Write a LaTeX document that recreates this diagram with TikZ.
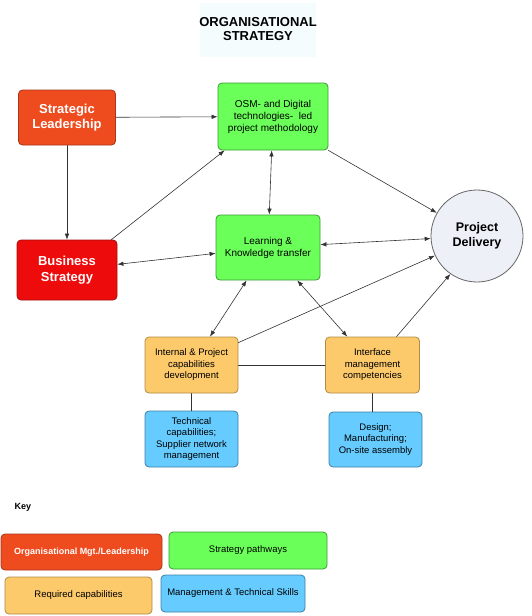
\documentclass[tikz,border=0pt]{standalone}
\usepackage{fontspec}
\setmainfont{Liberation Sans}
\usetikzlibrary{arrows.meta,positioning}
\definecolor{LeadRed}{HTML}{EE4B1F}
\definecolor{LeadEdge}{HTML}{A8361A}
\definecolor{StrategyRed}{HTML}{EE0B0B}
\definecolor{StrategyEdge}{HTML}{A01010}
\definecolor{PathGreen}{HTML}{6BFF5A}
\definecolor{PathEdge}{HTML}{3C9A35}
\definecolor{CapOrange}{HTML}{FCC96B}
\definecolor{CapEdge}{HTML}{B08C45}
\definecolor{SkillBlue}{HTML}{66CCFF}
\definecolor{SkillEdge}{HTML}{3D7FA6}
\definecolor{DeliveryGrey}{HTML}{EEF0F8}
\definecolor{TitleTint}{HTML}{F5FCFE}
\definecolor{LinkGrey}{HTML}{333333}

\begin{document}
\begin{tikzpicture}[x=1pt,y=-1pt,line cap=round,line join=round,
  box/.style={draw,rounded corners=4pt,line width=0.8pt,align=center,inner sep=2pt},
  leadbox/.style={box,fill=LeadRed,draw=LeadEdge,text=white,font=\bfseries\fontsize{13}{15.5}\selectfont},
  pathbox/.style={box,fill=PathGreen,draw=PathEdge,font=\fontsize{10}{12}\selectfont},
  capbox/.style={box,fill=CapOrange,draw=CapEdge,font=\fontsize{9.5}{11.5}\selectfont},
  skillbox/.style={box,fill=SkillBlue,draw=SkillEdge,font=\fontsize{9.5}{11.5}\selectfont},
  keybox/.style={box,font=\fontsize{9.5}{11.5}\selectfont,minimum height=37pt},
  link/.style={draw=LinkGrey,line width=0.6pt},
  tip/.style={link,-{Latex[length=6pt,width=4.5pt]}},
  twotip/.style={link,{Latex[length=6pt,width=4.5pt]}-{Latex[length=6pt,width=4.5pt]}}]
  \useasboundingbox (0,0) rectangle (532,616);

  \fill[TitleTint] (200,3) rectangle (316,57);
  \node[align=center,font=\bfseries\fontsize{13}{14.5}\selectfont] (title) at (258,29) {ORGANISATIONAL\\STRATEGY};

  \node[leadbox,minimum width=97pt,minimum height=55pt] (sl) at (67,117.5) {Strategic\\Leadership};
  \node[leadbox,fill=StrategyRed,draw=StrategyEdge,minimum width=100pt,minimum height=60pt] (bs) at (67,270) {Business\\Strategy};
  \node[pathbox,minimum width=110pt,minimum height=67pt] (osm) at (273,116.5) {OSM- and Digital\\technologies-\ \ led\\project methodology};
  \node[pathbox,minimum width=104pt,minimum height=65pt] (lk) at (268,247.5) {Learning \&\\Knowledge transfer};
  \node[circle,draw=black!60,line width=0.8pt,fill=DeliveryGrey,minimum size=92pt,align=center,
    font=\bfseries\fontsize{12.5}{15}\selectfont] (pd) at (477,236) {Project\\Delivery};
  \node[capbox,minimum width=93pt,minimum height=56pt] (ipc) at (191.5,365) {Internal \& Project\\capabilities\\development};
  \node[capbox,minimum width=94pt,minimum height=56pt] (imc) at (372.5,365) {Interface\\management\\competencies};
  \node[skillbox,minimum width=93pt,minimum height=56pt] (tech) at (191.5,439) {Technical\\capabilities;\\Supplier network\\management};
  \node[skillbox,minimum width=93pt,minimum height=55pt] (dma) at (375.5,439.5) {Design;\\Manufacturing;\\On-site assembly};

  \draw[tip] (sl) -- (osm);
  \draw[tip] (sl) -- (bs);
  \draw[tip] ([xshift=-6pt]bs.north east) -- ([xshift=7pt]osm.south west);
  \draw[twotip] (osm) -- (lk);
  \draw[tip] (osm.south east) -- (pd);
  \draw[twotip] (lk) -- (pd);
  \draw[twotip] (bs) -- (lk);
  \draw[twotip] (lk) -- (ipc);
  \draw[twotip] (lk) -- (imc);
  \draw[tip] ([yshift=-6pt]ipc.north east) -- (pd.205);
  \draw[tip] ([xshift=24pt]imc.north) -- (pd.235);
  \draw[link] (ipc) -- (imc);
  \draw[link] (ipc) -- (tech);
  \draw[link] (imc.south) -- (imc.south |- dma.north);

  \node[anchor=west,font=\bfseries\fontsize{9}{11}\selectfont] (key) at (11,507) {Key};
  \node[keybox,fill=LeadRed,draw=LeadEdge,text=white,font=\bfseries\fontsize{9}{11}\selectfont,minimum width=161pt,minimum height=36pt] (keylead) at (81.5,552) {Organisational Mgt./Leadership};
  \node[keybox,fill=PathGreen,draw=PathEdge,minimum width=158pt] (keypath) at (248,550.5) {Strategy pathways};
  \node[keybox,fill=CapOrange,draw=CapEdge,minimum width=147pt] (keycap) at (78.5,595.5) {Required capabilities};
  \node[keybox,fill=SkillBlue,draw=SkillEdge,minimum width=144pt] (keyskill) at (233,593.5) {Management \& Technical Skills};
\end{tikzpicture}
\end{document}
